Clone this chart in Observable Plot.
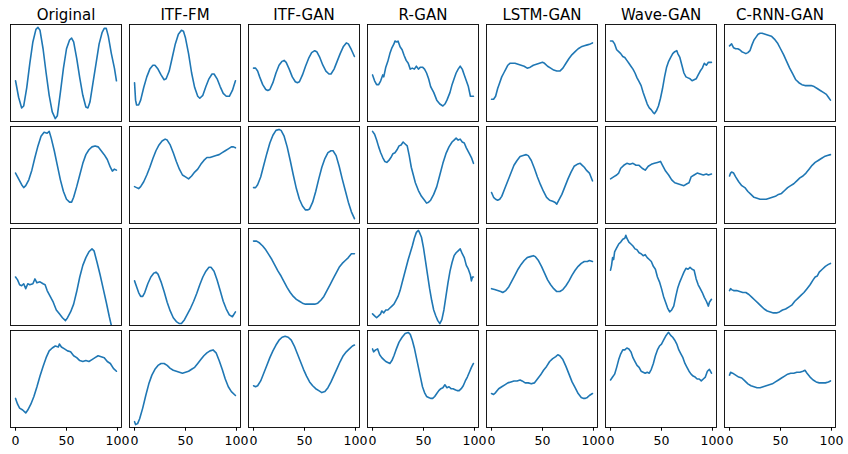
<!DOCTYPE html>
<html>
<head>
<meta charset="utf-8">
<script src="https://cdn.jsdelivr.net/npm/d3@7"></script>
<script src="https://cdn.jsdelivr.net/npm/@observablehq/plot@0.6"></script>
<style>
  html, body { margin: 0; padding: 0; background: #fff; }
  #chart svg { display: block; }
</style>
</head>
<body>
<div id="chart"></div>
<script>
// Column titles (models) and row ids
const models = ["Original", "ITF-FM", "ITF-GAN", "R-GAN", "LSTM-GAN", "Wave-GAN", "C-RNN-GAN"];
const rows = [1, 2, 3, 4];
const xTicks = [0, 50, 100];

// Series values: [time step, normalized value] pairs
const original1 = [[0,0.42],[3,0.25],[6,0.14],[8,0.16],[11,0.35],[14,0.6],[17,0.82],[20,0.95],[22,0.97],[24,0.94],[27,0.75],[30,0.5],[33,0.27],[36,0.1],[39,0.03],[41,0.06],[44,0.3],[47,0.55],[50,0.75],[53,0.84],[55,0.86],[57,0.82],[60,0.65],[63,0.45],[66,0.27],[69,0.15],[71,0.14],[73,0.2],[76,0.4],[79,0.6],[82,0.8],[85,0.92],[87,0.96],[89,0.96],[91,0.88],[94,0.7],[97,0.55],[99,0.42]];
const original2 = [[0,0.52],[3,0.46],[6,0.4],[8,0.37],[10,0.39],[13,0.45],[16,0.55],[19,0.68],[22,0.8],[25,0.9],[28,0.94],[31,0.93],[33,0.95],[35,0.88],[38,0.75],[41,0.6],[44,0.45],[47,0.33],[50,0.25],[53,0.22],[55,0.22],[57,0.27],[60,0.38],[63,0.5],[66,0.62],[69,0.71],[72,0.76],[75,0.79],[78,0.8],[81,0.79],[84,0.75],[87,0.71],[90,0.66],[93,0.58],[95,0.54],[97,0.56],[99,0.55]];
const original3 = [[0,0.5],[2,0.47],[4,0.42],[6,0.41],[8,0.43],[10,0.38],[12,0.43],[14,0.42],[17,0.43],[19,0.48],[21,0.44],[24,0.45],[27,0.43],[29,0.42],[31,0.36],[34,0.3],[37,0.24],[40,0.16],[43,0.12],[46,0.08],[49,0.05],[51,0.08],[54,0.14],[57,0.22],[60,0.35],[63,0.5],[66,0.62],[69,0.7],[72,0.76],[75,0.79],[77,0.77],[80,0.65],[83,0.52],[86,0.38],[89,0.24],[92,0.09],[94,0.0],[96,-0.1],[99,-0.25]];
const original4 = [[0,0.3],[2,0.24],[4,0.2],[7,0.18],[10,0.15],[12,0.18],[15,0.24],[18,0.32],[21,0.42],[24,0.53],[27,0.63],[30,0.72],[33,0.79],[36,0.82],[39,0.84],[42,0.83],[43,0.86],[45,0.83],[48,0.81],[51,0.79],[54,0.78],[57,0.74],[60,0.72],[63,0.69],[66,0.68],[69,0.69],[72,0.68],[75,0.7],[78,0.72],[81,0.74],[84,0.73],[87,0.72],[90,0.68],[93,0.66],[96,0.61],[99,0.58]];

const itffm1 = [[0,0.4],[1,0.22],[2,0.17],[4,0.17],[6,0.22],[9,0.35],[12,0.46],[15,0.54],[18,0.58],[20,0.58],[23,0.54],[26,0.48],[29,0.43],[31,0.44],[34,0.52],[37,0.66],[40,0.8],[43,0.9],[46,0.94],[48,0.93],[50,0.86],[53,0.7],[56,0.5],[59,0.35],[62,0.26],[64,0.24],[67,0.27],[70,0.36],[73,0.44],[76,0.49],[78,0.49],[81,0.44],[84,0.36],[87,0.29],[90,0.26],[93,0.26],[96,0.32],[99,0.42]];
const itffm2 = [[0,0.38],[2,0.37],[4,0.36],[6,0.38],[9,0.43],[12,0.5],[15,0.58],[18,0.67],[21,0.75],[24,0.81],[27,0.85],[30,0.87],[32,0.86],[35,0.81],[38,0.73],[41,0.64],[44,0.56],[47,0.5],[50,0.48],[53,0.46],[56,0.49],[59,0.53],[62,0.56],[65,0.61],[68,0.65],[71,0.68],[74,0.68],[77,0.69],[80,0.7],[83,0.71],[86,0.73],[89,0.75],[92,0.77],[95,0.79],[97,0.79],[99,0.78]];
const itffm3 = [[0,0.46],[2,0.4],[4,0.34],[6,0.3],[8,0.3],[10,0.34],[13,0.43],[16,0.5],[19,0.54],[21,0.55],[23,0.53],[26,0.45],[29,0.35],[32,0.24],[35,0.15],[38,0.08],[41,0.04],[44,0.02],[46,0.02],[49,0.06],[52,0.12],[55,0.18],[58,0.25],[61,0.33],[64,0.42],[67,0.5],[70,0.56],[73,0.6],[75,0.6],[78,0.56],[81,0.47],[84,0.36],[87,0.25],[90,0.17],[93,0.11],[96,0.09],[99,0.14]];
const itffm4 = [[0,0.06],[1,0.03],[3,0.04],[5,0.09],[8,0.2],[11,0.33],[14,0.45],[17,0.54],[20,0.6],[23,0.64],[26,0.66],[29,0.66],[32,0.64],[35,0.61],[38,0.59],[41,0.58],[44,0.57],[47,0.56],[50,0.57],[53,0.58],[56,0.6],[59,0.62],[62,0.66],[65,0.7],[68,0.74],[71,0.77],[74,0.79],[77,0.8],[80,0.77],[83,0.69],[86,0.6],[89,0.5],[92,0.42],[95,0.37],[99,0.33]];

const itfgan1 = [[0,0.55],[2,0.55],[4,0.52],[6,0.46],[9,0.38],[12,0.33],[14,0.32],[16,0.33],[19,0.4],[22,0.5],[25,0.58],[28,0.62],[30,0.63],[32,0.61],[35,0.54],[38,0.46],[41,0.41],[43,0.4],[45,0.41],[48,0.48],[51,0.57],[54,0.65],[57,0.71],[60,0.73],[62,0.72],[65,0.66],[68,0.58],[71,0.52],[74,0.49],[76,0.49],[79,0.54],[82,0.62],[85,0.7],[88,0.77],[91,0.81],[93,0.8],[96,0.74],[99,0.67]];
const itfgan2 = [[0,0.37],[2,0.37],[4,0.4],[7,0.48],[10,0.6],[13,0.72],[16,0.83],[19,0.91],[22,0.96],[25,0.97],[27,0.96],[30,0.9],[33,0.79],[36,0.65],[39,0.5],[42,0.36],[45,0.25],[48,0.18],[51,0.14],[53,0.14],[55,0.15],[58,0.22],[61,0.33],[64,0.46],[67,0.58],[70,0.67],[73,0.73],[76,0.75],[78,0.75],[81,0.7],[84,0.59],[87,0.46],[90,0.34],[93,0.22],[96,0.12],[99,0.05]];
const itfgan3 = [[0,0.87],[3,0.87],[6,0.85],[9,0.82],[12,0.78],[15,0.73],[18,0.68],[21,0.62],[24,0.56],[27,0.51],[30,0.45],[33,0.39],[36,0.34],[39,0.3],[42,0.27],[45,0.25],[48,0.23],[51,0.22],[54,0.22],[57,0.22],[60,0.22],[63,0.23],[66,0.26],[69,0.3],[72,0.36],[75,0.42],[78,0.48],[81,0.54],[84,0.6],[87,0.64],[90,0.67],[93,0.7],[96,0.74],[99,0.74]];
const itfgan4 = [[0,0.43],[2,0.42],[4,0.43],[7,0.48],[10,0.56],[13,0.64],[16,0.72],[19,0.79],[22,0.85],[25,0.9],[28,0.93],[31,0.94],[34,0.93],[37,0.9],[40,0.84],[43,0.76],[46,0.68],[49,0.6],[52,0.53],[55,0.47],[58,0.43],[61,0.4],[64,0.38],[67,0.36],[70,0.37],[73,0.41],[76,0.47],[79,0.54],[82,0.61],[85,0.68],[88,0.74],[91,0.78],[94,0.81],[97,0.84],[99,0.85]];

const rgan1 = [[0,0.48],[2,0.42],[4,0.38],[6,0.38],[8,0.42],[10,0.48],[11,0.46],[13,0.56],[15,0.62],[17,0.7],[19,0.76],[21,0.8],[22,0.83],[24,0.82],[25,0.83],[27,0.77],[29,0.74],[31,0.68],[33,0.63],[35,0.6],[37,0.54],[39,0.55],[41,0.54],[43,0.57],[45,0.54],[47,0.56],[49,0.56],[51,0.54],[53,0.5],[55,0.44],[57,0.36],[60,0.3],[63,0.22],[66,0.18],[69,0.16],[71,0.18],[73,0.22],[76,0.3],[78,0.38],[80,0.44],[82,0.5],[84,0.54],[86,0.57],[88,0.54],[90,0.48],[92,0.42],[94,0.36],[96,0.26],[99,0.26]];
const rgan2 = [[0,0.95],[2,0.92],[4,0.86],[6,0.79],[8,0.73],[10,0.68],[12,0.64],[14,0.63],[16,0.65],[18,0.68],[20,0.72],[22,0.73],[24,0.76],[26,0.8],[28,0.81],[30,0.84],[32,0.82],[34,0.8],[36,0.7],[38,0.58],[40,0.5],[42,0.42],[45,0.34],[48,0.28],[51,0.24],[53,0.21],[55,0.22],[57,0.24],[60,0.3],[63,0.38],[66,0.5],[69,0.62],[72,0.72],[75,0.79],[78,0.84],[80,0.86],[82,0.88],[84,0.86],[86,0.87],[88,0.84],[90,0.83],[92,0.78],[95,0.72],[97,0.68],[99,0.62]];
const rgan3 = [[0,0.12],[2,0.1],[4,0.08],[6,0.1],[8,0.12],[9,0.15],[11,0.13],[13,0.16],[15,0.16],[17,0.18],[19,0.2],[21,0.22],[23,0.26],[25,0.3],[27,0.36],[29,0.44],[31,0.52],[33,0.6],[35,0.68],[37,0.75],[39,0.82],[41,0.9],[43,0.96],[45,0.98],[46,0.96],[48,0.91],[50,0.8],[52,0.66],[54,0.52],[56,0.38],[58,0.26],[60,0.16],[62,0.1],[64,0.05],[66,0.02],[68,0.06],[70,0.16],[72,0.3],[74,0.44],[76,0.56],[78,0.65],[80,0.72],[82,0.75],[84,0.77],[86,0.79],[88,0.74],[90,0.7],[92,0.62],[94,0.58],[96,0.52],[97,0.46],[98,0.5],[99,0.5]];
const rgan4 = [[0,0.81],[1,0.78],[3,0.8],[5,0.81],[7,0.75],[9,0.72],[11,0.7],[13,0.68],[15,0.67],[17,0.66],[19,0.69],[21,0.74],[23,0.8],[26,0.88],[29,0.93],[32,0.97],[35,0.98],[37,0.96],[39,0.9],[41,0.82],[43,0.72],[45,0.62],[47,0.52],[49,0.42],[51,0.36],[53,0.32],[55,0.31],[57,0.3],[59,0.3],[61,0.32],[63,0.35],[65,0.38],[67,0.4],[69,0.41],[71,0.44],[73,0.41],[75,0.42],[77,0.4],[79,0.4],[81,0.39],[83,0.38],[85,0.38],[87,0.4],[89,0.43],[91,0.48],[93,0.52],[95,0.57],[97,0.62],[99,0.66]];

const lstm1 = [[0,0.23],[2,0.23],[4,0.26],[6,0.34],[8,0.4],[10,0.46],[12,0.5],[14,0.54],[16,0.58],[18,0.6],[20,0.6],[23,0.6],[26,0.59],[29,0.58],[32,0.57],[35,0.55],[38,0.56],[41,0.58],[44,0.59],[47,0.6],[50,0.61],[52,0.6],[55,0.57],[58,0.55],[61,0.53],[64,0.52],[67,0.52],[70,0.55],[73,0.6],[76,0.65],[79,0.69],[82,0.72],[85,0.75],[88,0.77],[91,0.78],[94,0.79],[97,0.8],[99,0.81]];
const lstm2 = [[0,0.32],[2,0.27],[4,0.25],[6,0.24],[8,0.25],[10,0.28],[13,0.36],[16,0.44],[19,0.52],[22,0.6],[25,0.65],[28,0.69],[31,0.7],[34,0.71],[36,0.7],[39,0.65],[42,0.57],[45,0.48],[48,0.4],[51,0.33],[54,0.27],[57,0.24],[60,0.23],[62,0.22],[64,0.2],[66,0.24],[69,0.3],[72,0.38],[75,0.46],[78,0.53],[81,0.59],[84,0.61],[87,0.62],[89,0.6],[91,0.58],[93,0.55],[96,0.52],[99,0.44]];
const lstm3 = [[0,0.38],[3,0.37],[6,0.36],[9,0.35],[11,0.34],[14,0.36],[17,0.4],[20,0.46],[23,0.52],[26,0.58],[29,0.63],[32,0.67],[35,0.7],[38,0.71],[41,0.72],[43,0.71],[46,0.67],[49,0.61],[52,0.54],[55,0.47],[58,0.42],[61,0.38],[64,0.35],[67,0.35],[70,0.37],[73,0.41],[76,0.46],[79,0.52],[82,0.57],[85,0.61],[88,0.64],[91,0.66],[94,0.66],[96,0.67],[99,0.66]];
const lstm4 = [[0,0.35],[2,0.34],[4,0.36],[7,0.4],[10,0.42],[13,0.44],[16,0.46],[19,0.47],[22,0.48],[25,0.48],[28,0.49],[30,0.48],[33,0.46],[36,0.46],[39,0.45],[42,0.46],[45,0.5],[48,0.54],[51,0.59],[54,0.63],[57,0.68],[60,0.71],[63,0.73],[65,0.75],[67,0.74],[70,0.7],[73,0.63],[76,0.55],[79,0.47],[82,0.41],[85,0.35],[88,0.31],[90,0.3],[92,0.3],[94,0.31],[96,0.33],[99,0.35]];

const wave1 = [[0,0.83],[2,0.83],[4,0.8],[6,0.74],[8,0.72],[10,0.7],[12,0.67],[14,0.66],[16,0.63],[18,0.6],[20,0.57],[22,0.54],[24,0.5],[26,0.45],[28,0.41],[30,0.37],[32,0.3],[34,0.24],[36,0.18],[38,0.14],[40,0.12],[42,0.09],[43,0.08],[45,0.11],[47,0.16],[49,0.24],[51,0.34],[53,0.46],[55,0.56],[57,0.62],[59,0.66],[61,0.7],[63,0.72],[65,0.73],[66,0.7],[68,0.66],[70,0.58],[72,0.5],[74,0.46],[76,0.45],[78,0.44],[80,0.42],[82,0.43],[84,0.44],[86,0.48],[88,0.52],[90,0.55],[92,0.6],[94,0.58],[96,0.61],[99,0.61]];
const wave2 = [[0,0.46],[3,0.48],[6,0.5],[8,0.52],[10,0.57],[13,0.6],[16,0.62],[19,0.61],[22,0.62],[25,0.6],[28,0.6],[31,0.57],[34,0.55],[37,0.59],[40,0.61],[43,0.62],[46,0.63],[49,0.64],[51,0.6],[54,0.54],[57,0.5],[60,0.45],[63,0.42],[66,0.41],[69,0.4],[72,0.39],[75,0.41],[77,0.42],[79,0.48],[82,0.5],[85,0.52],[88,0.51],[91,0.5],[94,0.51],[96,0.5],[99,0.51]];
const wave3 = [[0,0.57],[1,0.62],[2,0.7],[3,0.68],[4,0.76],[6,0.8],[8,0.84],[10,0.86],[12,0.89],[14,0.9],[15,0.93],[16,0.9],[18,0.86],[20,0.84],[22,0.82],[24,0.79],[26,0.78],[28,0.75],[30,0.74],[32,0.72],[34,0.73],[36,0.7],[38,0.68],[40,0.66],[42,0.61],[44,0.58],[46,0.5],[48,0.45],[50,0.38],[52,0.3],[54,0.24],[56,0.18],[58,0.14],[60,0.16],[62,0.2],[64,0.3],[66,0.39],[68,0.45],[70,0.5],[72,0.55],[74,0.59],[76,0.58],[78,0.6],[80,0.58],[82,0.57],[84,0.48],[86,0.42],[88,0.38],[90,0.34],[92,0.29],[94,0.25],[96,0.2],[97,0.24],[99,0.27]];
const wave4 = [[0,0.49],[2,0.52],[4,0.55],[6,0.62],[8,0.7],[10,0.76],[12,0.8],[14,0.8],[16,0.82],[18,0.81],[20,0.78],[22,0.72],[24,0.68],[26,0.64],[28,0.62],[30,0.58],[32,0.57],[34,0.56],[36,0.57],[38,0.56],[40,0.6],[42,0.66],[44,0.74],[46,0.8],[48,0.84],[50,0.86],[52,0.9],[54,0.94],[56,0.97],[57,0.98],[59,0.95],[61,0.93],[63,0.9],[65,0.86],[67,0.8],[69,0.76],[71,0.72],[73,0.66],[75,0.62],[77,0.58],[79,0.55],[81,0.53],[83,0.52],[85,0.5],[87,0.5],[89,0.48],[91,0.5],[93,0.52],[95,0.58],[97,0.6],[99,0.56]];

const crnn1 = [[0,0.78],[1,0.79],[2,0.8],[3,0.78],[4,0.76],[6,0.75],[8,0.75],[10,0.74],[12,0.72],[14,0.71],[16,0.7],[18,0.71],[20,0.73],[22,0.79],[24,0.84],[26,0.87],[28,0.9],[30,0.91],[32,0.91],[35,0.9],[38,0.89],[41,0.88],[44,0.85],[47,0.81],[50,0.75],[53,0.69],[56,0.62],[59,0.55],[62,0.49],[65,0.43],[68,0.4],[71,0.38],[74,0.37],[77,0.37],[80,0.37],[83,0.36],[86,0.34],[89,0.32],[92,0.3],[95,0.28],[97,0.25],[99,0.22]];
const crnn2 = [[0,0.49],[1,0.52],[2,0.53],[4,0.52],[6,0.48],[9,0.43],[12,0.39],[15,0.37],[18,0.33],[21,0.3],[24,0.27],[27,0.26],[30,0.25],[33,0.25],[36,0.25],[39,0.26],[42,0.27],[45,0.28],[48,0.3],[51,0.31],[54,0.34],[57,0.37],[60,0.39],[63,0.41],[66,0.44],[69,0.47],[72,0.49],[75,0.52],[78,0.56],[81,0.6],[84,0.63],[87,0.65],[90,0.67],[93,0.69],[96,0.7],[99,0.71]];
const crnn3 = [[0,0.36],[1,0.38],[2,0.37],[4,0.36],[7,0.36],[10,0.35],[13,0.34],[16,0.34],[19,0.32],[22,0.29],[25,0.26],[28,0.23],[31,0.2],[34,0.17],[37,0.15],[40,0.14],[43,0.13],[46,0.13],[49,0.14],[52,0.16],[55,0.17],[58,0.19],[61,0.21],[64,0.25],[67,0.28],[70,0.31],[73,0.34],[76,0.38],[79,0.42],[82,0.47],[84,0.5],[86,0.51],[88,0.55],[91,0.58],[94,0.61],[97,0.63],[99,0.64]];
const crnn4 = [[0,0.54],[1,0.57],[3,0.56],[6,0.54],[9,0.52],[12,0.51],[15,0.48],[18,0.45],[21,0.43],[24,0.42],[27,0.41],[30,0.41],[33,0.42],[36,0.43],[39,0.44],[42,0.45],[45,0.47],[48,0.49],[51,0.51],[54,0.53],[57,0.55],[60,0.56],[63,0.56],[66,0.57],[69,0.57],[72,0.58],[74,0.59],[76,0.56],[79,0.52],[82,0.49],[85,0.47],[88,0.46],[91,0.46],[94,0.46],[97,0.47],[99,0.48]];

const seriesByModel = {
  "Original": [original1, original2, original3, original4],
  "ITF-FM": [itffm1, itffm2, itffm3, itffm4],
  "ITF-GAN": [itfgan1, itfgan2, itfgan3, itfgan4],
  "R-GAN": [rgan1, rgan2, rgan3, rgan4],
  "LSTM-GAN": [lstm1, lstm2, lstm3, lstm4],
  "Wave-GAN": [wave1, wave2, wave3, wave4],
  "C-RNN-GAN": [crnn1, crnn2, crnn3, crnn4]
};

const data = [];
for (const m of models) {
  seriesByModel[m].forEach((s, i) => {
    for (const [x, y] of s) data.push({model: m, row: rows[i], x, y});
  });
}

const chart = Plot.plot({
  width: 848,
  height: 454,
  marginLeft: 8,
  marginRight: 12,
  marginTop: 23,
  marginBottom: 27,
  style: {fontFamily: "'DejaVu Sans', sans-serif", background: "#fff", color: "#000"},
  x: {domain: [-4.95, 103.95]},
  y: {domain: [0, 1], axis: null},
  fx: {domain: models, paddingInner: 0.0711, paddingOuter: 0},
  fy: {domain: rows, paddingInner: 0.0537, paddingOuter: 0, axis: null},
  marks: [
    Plot.line(data, {x: "x", y: "y", fx: "model", fy: "row", stroke: "#1f77b4", strokeWidth: 1.6, clip: true}),
    Plot.frame({stroke: "#000", strokeWidth: 0.9}),
    Plot.axisX({ticks: xTicks, tickSize: 3.7, tickPadding: 4.5, fontSize: 12.5, label: null, tickFormat: d => String(d)}),
    Plot.axisFx({anchor: "top", tickSize: 0, tickPadding: 5, fontSize: 15, label: null})
  ]
});
document.getElementById("chart").appendChild(chart);
</script>
</body>
</html>
